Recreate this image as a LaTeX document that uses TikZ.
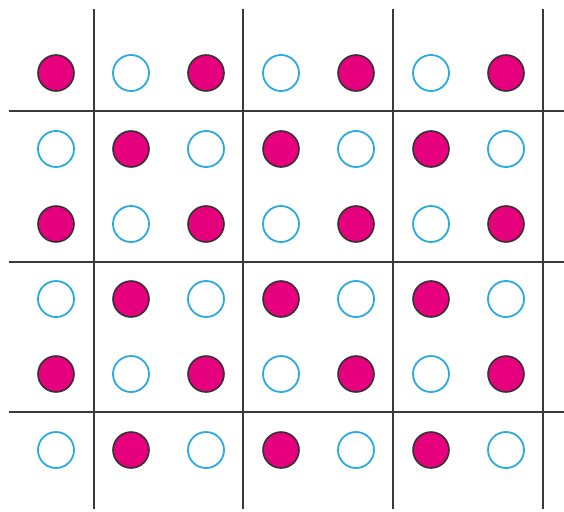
\documentclass[tikz,border=0pt]{standalone}
\definecolor{mag}{HTML}{E6007E}
\definecolor{cyanb}{HTML}{29ABE2}
\definecolor{gridc}{HTML}{3A3A3A}
\begin{document}
\begin{tikzpicture}[x=1pt,y=-1pt,
  filled/.style={circle,minimum size=36pt,inner sep=0pt,fill=mag,draw=black!80,line width=1.6pt},
  hollow/.style={circle,minimum size=36pt,inner sep=0pt,draw=cyanb,line width=1.8pt},
  gridline/.style={draw=gridc,line width=1.8pt}]
\useasboundingbox (0,0) rectangle (564,511);
\foreach \x in {94,243,393,543}
  \draw[gridline] (\x,9) -- (\x,509);
\foreach \y in {111,262,412}
  \draw[gridline] (9,\y) -- (564,\y);
\foreach \j/\y in {0/73,1/149,2/224,3/299,4/374,5/450}
  \foreach \i/\x in {0/56,1/131,2/206,3/281,4/356,5/431,6/506}{
    \pgfmathtruncatemacro{\myparity}{mod(\i+\j,2)}
    \ifnum\myparity=0
      \node[filled] (c\j\i) at (\x,\y) {};
    \else
      \node[hollow] (c\j\i) at (\x,\y) {};
    \fi
  }
\end{tikzpicture}
\end{document}
